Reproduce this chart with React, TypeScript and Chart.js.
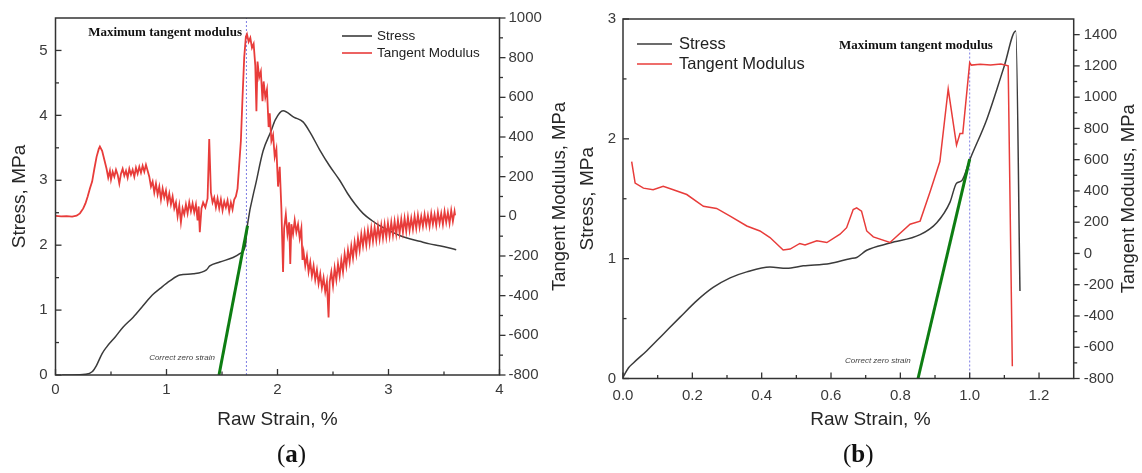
import React, { useEffect, useRef } from "react";
import { Chart, registerables } from "chart.js";

Chart.register(...registerables);

const SANS = "'Liberation Sans', Arial, Helvetica, sans-serif";
const SERIF = "'Liberation Serif', 'Times New Roman', serif";
const AXIS = "#333333";
const TICK_COLOR = "#3a3a3a";
const TITLE_COLOR = "#262626";
const RED = "#e83c3a";
const BLACK = "#3b3b3b";
const GREEN = "#0d7d12";
const BLUE = "#7d7de3";

// ---------------- Panel (a) ----------------
const stressA: [number, number][] = [
  [0.06, 0], [0.15, 0], [0.27, 0.01], [0.33, 0.05], [0.37, 0.15], [0.42, 0.33], [0.46, 0.43],
  [0.54, 0.59], [0.61, 0.74], [0.7, 0.89], [0.79, 1.07], [0.87, 1.23], [0.94, 1.33], [1.03, 1.45],
  [1.12, 1.54], [1.24, 1.56], [1.36, 1.62], [1.39, 1.68], [1.48, 1.74], [1.6, 1.81], [1.66, 1.87],
  [1.71, 1.99], [1.73, 2.32], [1.81, 2.99], [1.87, 3.45], [1.94, 3.75], [1.98, 3.93], [2.05, 4.07],
  [2.15, 3.97], [2.23, 3.9], [2.3, 3.72], [2.38, 3.47], [2.47, 3.22], [2.56, 3.0], [2.63, 2.8],
  [2.7, 2.63], [2.77, 2.49], [2.85, 2.38], [2.92, 2.3], [3.01, 2.22], [3.1, 2.15], [3.19, 2.1],
  [3.28, 2.06], [3.37, 2.02], [3.46, 1.99], [3.54, 1.96], [3.61, 1.93],
];

const tangentA: [number, number][] = [
  [0.0, 2], [0.05, 0], [0.1, 1], [0.15, -1], [0.19, 3], [0.22, 15], [0.25, 40], [0.27, 65],
  [0.29, 100], [0.31, 140], [0.33, 175], [0.35, 240], [0.37, 300], [0.39, 340], [0.4, 352],
  [0.42, 330], [0.44, 285], [0.46, 240], [0.475, 195], [0.49, 230], [0.5, 185], [0.515, 225],
  [0.53, 200], [0.545, 235], [0.56, 210], [0.575, 165], [0.59, 215], [0.605, 240], [0.62, 205],
  [0.635, 230], [0.65, 195], [0.665, 240], [0.68, 210], [0.695, 235], [0.71, 200], [0.725, 245],
  [0.74, 215], [0.755, 250], [0.77, 220], [0.785, 255], [0.8, 225], [0.815, 260], [0.83, 230],
  [0.845, 200], [0.86, 150], [0.875, 175], [0.89, 120], [0.905, 165], [0.92, 110], [0.935, 150],
  [0.95, 85], [0.965, 140], [0.98, 95], [0.995, 130], [1.01, 70], [1.025, 115], [1.04, 60],
  [1.055, 100], [1.07, 40], [1.085, 70], [1.1, 0], [1.115, 55], [1.13, -30], [1.145, 40],
  [1.16, 10], [1.175, 60], [1.19, 15], [1.205, 70], [1.22, 25], [1.235, 65], [1.25, 20],
  [1.265, 60], [1.28, -20], [1.29, 50], [1.3, -80], [1.315, 40], [1.33, 70], [1.35, 45],
  [1.37, 90], [1.385, 390], [1.4, 120], [1.415, 70], [1.43, 95], [1.445, 45], [1.46, 90],
  [1.475, 40], [1.49, 85], [1.505, 30], [1.52, 75], [1.535, 45], [1.55, 80], [1.565, 25],
  [1.58, 70], [1.595, 35], [1.61, 85], [1.625, 100], [1.64, 140], [1.655, 260], [1.67, 380],
  [1.685, 600], [1.7, 800], [1.715, 905], [1.725, 918], [1.74, 880], [1.755, 900], [1.77, 850],
  [1.785, 870], [1.8, 760], [1.81, 530], [1.82, 780], [1.835, 700], [1.85, 730], [1.865, 580],
  [1.875, 680], [1.89, 600], [1.905, 640], [1.92, 450], [1.93, 520], [1.945, 380], [1.96, 410],
  [1.975, 300], [1.99, 340], [2.005, 150], [2.02, 250], [2.035, 40], [2.05, -280], [2.06, -60],
  [2.075, 10], [2.09, -90], [2.105, -30], [2.115, -240], [2.125, -40], [2.14, -90], [2.155, -20],
  [2.17, -80], [2.185, -40], [2.2, -110], [2.215, -60], [2.225, -220], [2.235, -180], [2.25, -250],
  [2.265, -200], [2.28, -280], [2.295, -230], [2.31, -300], [2.325, -250], [2.34, -320],
  [2.355, -270], [2.37, -340], [2.385, -290], [2.4, -360], [2.415, -310], [2.43, -380],
  [2.445, -330], [2.46, -510], [2.47, -330], [2.485, -280], [2.5, -350], [2.515, -260],
  [2.53, -320], [2.545, -240], [2.56, -300], [2.575, -220], [2.59, -280], [2.605, -190],
  [2.62, -250], [2.635, -170], [2.65, -230], [2.665, -150], [2.68, -210], [2.695, -130],
  [2.71, -190], [2.725, -110], [2.74, -170], [2.755, -90], [2.77, -150], [2.785, -80],
  [2.8, -145], [2.815, -70], [2.83, -135], [2.845, -60], [2.86, -125], [2.875, -55], [2.89, -120],
  [2.905, -50], [2.92, -115], [2.935, -45], [2.95, -110], [2.965, -40], [2.98, -105], [2.995, -35],
  [3.01, -100], [3.025, -30], [3.04, -95], [3.055, -25], [3.07, -90], [3.085, -20], [3.1, -85],
  [3.115, -15], [3.13, -80], [3.145, -10], [3.16, -75], [3.175, -5], [3.19, -70], [3.205, -10],
  [3.22, -65], [3.235, 0], [3.25, -60], [3.265, 5], [3.28, -55], [3.295, 0], [3.31, -50],
  [3.325, 10], [3.34, -45], [3.355, 5], [3.37, -50], [3.385, 15], [3.4, -40], [3.415, 10],
  [3.43, -45], [3.445, 20], [3.46, -35], [3.475, 15], [3.49, -40], [3.505, 25], [3.52, -30],
  [3.535, 20], [3.55, -35], [3.565, 30], [3.58, -25], [3.595, 25], [3.6, 5],
];

const zeroLineA: [number, number][] = [[1.473, 0], [1.73, 2.3]];
const maxLineA: [number, number][] = [[1.72, 0], [1.72, 5.5]];

const xMajorA = [0, 1, 2, 3, 4];
const xMinorA = [0.5, 1.5, 2.5, 3.5];
const yMajorA = [0, 1, 2, 3, 4, 5];
const yMinorA = [0.5, 1.5, 2.5, 3.5, 4.5];
const y1MajorA = [-800, -600, -400, -200, 0, 200, 400, 600, 800, 1000];
const y1MinorA = [-700, -500, -300, -100, 100, 300, 500, 700, 900];

// ---------------- Panel (b) ----------------
const stressB: [number, number][] = [
  [0.0, 0.01], [0.016, 0.09], [0.03, 0.13], [0.068, 0.23], [0.116, 0.37], [0.164, 0.51],
  [0.213, 0.65], [0.26, 0.76], [0.309, 0.84], [0.357, 0.89], [0.424, 0.93], [0.472, 0.92],
  [0.52, 0.94], [0.597, 0.96], [0.655, 1.0], [0.674, 1.01], [0.703, 1.07], [0.77, 1.13],
  [0.857, 1.2], [0.905, 1.3], [0.943, 1.47], [0.962, 1.63], [0.977, 1.65], [1.001, 1.83],
  [1.049, 2.16], [1.078, 2.41], [1.1, 2.61], [1.133, 2.9], [1.145, 0.73],
];

const tangentB: [number, number][] = [
  [0.025, 588], [0.035, 450], [0.059, 418], [0.087, 408], [0.116, 429], [0.145, 408],
  [0.184, 377], [0.232, 302], [0.27, 288], [0.309, 239], [0.357, 176], [0.395, 144],
  [0.424, 102], [0.462, 22], [0.482, 28], [0.51, 64], [0.525, 55], [0.559, 81], [0.588, 70],
  [0.626, 123], [0.645, 165], [0.664, 281], [0.674, 292], [0.688, 271], [0.703, 144],
  [0.722, 106], [0.77, 70], [0.828, 187], [0.857, 207], [0.886, 397], [0.914, 588],
  [0.938, 1052], [0.962, 693], [0.972, 767], [0.98, 767], [1.0, 1221], [1.005, 1205],
  [1.03, 1210], [1.06, 1205], [1.09, 1212], [1.111, 1200], [1.123, -722],
];

const zeroLineB: [number, number][] = [[0.851, 0], [1.0, 1.83]];
const maxLineB: [number, number][] = [[1.0, 0], [1.0, 2.75]];

const xMajorB = [0, 0.2, 0.4, 0.6, 0.8, 1.0, 1.2];
const xMinorB = [0.1, 0.3, 0.5, 0.7, 0.9, 1.1];
const yMajorB = [0, 1, 2, 3];
const yMinorB = [0.5, 1.5, 2.5];
const y1MajorB = [-800, -600, -400, -200, 0, 200, 400, 600, 800, 1000, 1200, 1400];
const y1MinorB = [-700, -500, -300, -100, 100, 300, 500, 700, 900, 1100, 1300];

// ---------------- drawing helpers ----------------
const decorPlugin = {
  id: "decor",
  afterDatasetsDraw(chart: any, _args: any, o: any) {
    const { ctx, chartArea: a, scales } = chart;
    ctx.save();
    ctx.strokeStyle = AXIS;
    ctx.lineWidth = 1.5;
    ctx.strokeRect(a.left, a.top, a.right - a.left, a.bottom - a.top);

    ctx.lineWidth = 1.3;
    for (const m of o.marks) {
      const s = scales[m.id];
      const draw = (v: number, len: number) => {
        const p = s.getPixelForValue(v);
        ctx.beginPath();
        if (m.side === "bottom") {
          ctx.moveTo(p, a.bottom);
          ctx.lineTo(p, a.bottom - len);
        } else if (m.side === "left") {
          ctx.moveTo(a.left, p);
          ctx.lineTo(a.left + len, p);
        } else {
          ctx.moveTo(a.right, p);
          ctx.lineTo(a.right + len, p);
        }
        ctx.stroke();
      };
      m.major.forEach((v: number) => draw(v, 6));
      m.minor.forEach((v: number) => draw(v, 3.5));
    }

    for (const n of o.notes) {
      ctx.font = n.font;
      ctx.fillStyle = n.color;
      ctx.textAlign = n.align;
      ctx.textBaseline = "middle";
      ctx.fillText(n.text, scales.x.getPixelForValue(n.x), scales.y.getPixelForValue(n.y));
    }

    const lg = o.legend;
    const items = [chart.data.datasets[1], chart.data.datasets[0]];
    items.forEach((ds: any, i: number) => {
      const y = a.top + lg.top + i * lg.gap;
      ctx.strokeStyle = ds.borderColor;
      ctx.lineWidth = 1.6;
      ctx.beginPath();
      ctx.moveTo(a.left + lg.left, y);
      ctx.lineTo(a.left + lg.left + lg.len, y);
      ctx.stroke();
      ctx.font = lg.font;
      ctx.fillStyle = "#222";
      ctx.textAlign = "left";
      ctx.textBaseline = "middle";
      ctx.fillText(ds.label, a.left + lg.left + lg.len + lg.pad, y);
    });

    for (const t of o.titles) {
      ctx.save();
      const cx = t.anchor === "right" ? a.right + t.dx : (a.left + a.right) / 2 + t.dx;
      const cy = t.anchor === "right" ? (a.top + a.bottom) / 2 + t.dy : a.bottom + t.dy;
      ctx.translate(cx, cy);
      ctx.rotate(t.rot);
      ctx.font = t.font;
      ctx.fillStyle = TITLE_COLOR;
      ctx.textAlign = "center";
      ctx.textBaseline = "middle";
      ctx.fillText(t.text, 0, 0);
      ctx.restore();
    }
    ctx.restore();
  },
};

const xy = (pts: [number, number][]) => pts.map(([x, y]) => ({ x, y }));
const setTicks = (vals: number[]) => (s: any) => {
  s.ticks = vals.map((v) => ({ value: v }));
};
const plain = (v: any) => String(v);

function build(canvas: HTMLCanvasElement, p: any) {
  return new Chart(canvas, {
    type: "line",
    data: {
      datasets: [
        { label: "Tangent Modulus", data: xy(p.tangent), yAxisID: "y1", borderColor: RED, borderWidth: p.redW, pointRadius: 0, tension: 0, order: 1 },
        { label: "Stress", data: xy(p.stress), yAxisID: "y", borderColor: BLACK, borderWidth: 1.5, pointRadius: 0, cubicInterpolationMode: "monotone", order: 2 },
        { label: "Correct zero strain", data: xy(p.zero), yAxisID: "y", borderColor: GREEN, borderWidth: 3, pointRadius: 0, order: 0 },
        { label: "Maximum tangent modulus", data: xy(p.maxLine), yAxisID: "y", borderColor: BLUE, borderWidth: 1, borderDash: [2, 2], pointRadius: 0, order: 3 },
      ],
    } as any,
    options: {
      animation: false,
      responsive: false,
      events: [],
      layout: { padding: { top: p.top, left: 0, right: 0, bottom: 0 } },
      scales: {
        x: {
          type: "linear",
          min: p.xMin,
          max: p.xMax,
          afterFit: (s: any) => { s.height = p.xAxisH; },
          afterBuildTicks: setTicks(p.xMajor),
          grid: { display: false, drawTicks: false },
          border: { display: false },
          ticks: { padding: p.xPad, color: TICK_COLOR, font: { family: SANS, size: 15 }, callback: p.xFmt },
          title: p.xTitle
            ? { display: true, text: "Raw Strain, %", color: TITLE_COLOR, font: { family: SANS, size: 19 }, padding: { top: 0, bottom: 41.6 } }
            : { display: false },
        },
        y: {
          type: "linear",
          position: "left",
          min: p.yMin,
          max: p.yMax,
          afterFit: (s: any) => { s.width = p.yW; },
          afterBuildTicks: setTicks(p.yMajor),
          grid: { display: false, drawTicks: false },
          border: { display: false },
          ticks: { padding: p.yPad, color: TICK_COLOR, font: { family: SANS, size: 15 }, callback: plain },
          title: { display: true, text: "Stress, MPa", color: TITLE_COLOR, font: { family: SANS, size: 19 }, padding: { top: p.yTitlePad, bottom: 0 } },
        },
        y1: {
          type: "linear",
          position: "right",
          min: p.y1Min,
          max: p.y1Max,
          afterFit: (s: any) => { s.width = p.y1W; },
          afterBuildTicks: setTicks(p.y1Major),
          grid: { display: false, drawTicks: false },
          border: { display: false },
          ticks: { padding: p.y1Pad, color: TICK_COLOR, font: { family: SANS, size: 15 }, callback: plain },
        },
      },
      plugins: {
        legend: { display: false },
        tooltip: { enabled: false },
        decor: {
          marks: [
            { id: "x", side: "bottom", major: p.xMajor, minor: p.xMinor },
            { id: "y", side: "left", major: p.yMajor, minor: p.yMinor },
            { id: "y1", side: "right", major: p.y1Major, minor: p.y1Minor },
          ],
          notes: p.notes,
          legend: p.legend,
          titles: p.titles,
        },
      } as any,
    },
    plugins: [decorPlugin],
  });
}

export default function App() {
  const refA = useRef<HTMLCanvasElement>(null);
  const refB = useRef<HTMLCanvasElement>(null);

  useEffect(() => {
    const a = build(refA.current!, {
      tangent: tangentA, stress: stressA, zero: zeroLineA, maxLine: maxLineA, redW: 1.8,
      top: 15, xMin: 0, xMax: 4, xAxisH: 98, xPad: 6, xMajor: xMajorA, xMinor: xMinorA,
      xFmt: plain, xTitle: true,
      yMin: 0, yMax: 5.5, yW: 55.5, yPad: 8, yMajor: yMajorA, yMinor: yMinorA, yTitlePad: 8.6,
      y1Min: -800, y1Max: 1000, y1W: 75.5, y1Pad: 9, y1Major: y1MajorA, y1Minor: y1MinorA,
      notes: [
        { text: "Maximum tangent modulus", x: 1.68, y: 5.28, align: "right", font: `bold 13px ${SERIF}`, color: "#111" },
        { text: "Correct zero strain", x: 1.14, y: 0.26, align: "center", font: `italic 8px ${SANS}`, color: "#444" },
      ],
      legend: { left: 286.5, len: 30, pad: 5, top: 18, gap: 17, font: `13.5px ${SANS}` },
      titles: [
        { text: "Tangent Modulus, MPa", anchor: "right", dx: 60.5, dy: 0, rot: -Math.PI / 2, font: `18.5px ${SANS}` },
      ],
    });
    const b = build(refB.current!, {
      tangent: tangentB, stress: stressB, zero: zeroLineB, maxLine: maxLineB, redW: 1.5,
      top: 16, xMin: 0, xMax: 1.3, xAxisH: 94.5, xPad: 8, xMajor: xMajorB, xMinor: xMinorB,
      xFmt: (v: any) => Number(v).toFixed(1), xTitle: false,
      yMin: 0, yMax: 3, yW: 48, yPad: 7, yMajor: yMajorB, yMinor: yMinorB, yTitlePad: 1.6,
      y1Min: -800, y1Max: 1500, y1W: 68.3, y1Pad: 10, y1Major: y1MajorB, y1Minor: y1MinorB,
      notes: [
        { text: "Maximum tangent modulus", x: 1.067, y: 2.78, align: "right", font: `bold 13px ${SERIF}`, color: "#111" },
        { text: "Correct zero strain", x: 0.735, y: 0.145, align: "center", font: `italic 8px ${SANS}`, color: "#444" },
      ],
      legend: { left: 14, len: 35, pad: 7, top: 25, gap: 20, font: `16.5px ${SANS}` },
      titles: [
        { text: "Tangent Modulus, MPa", anchor: "right", dx: 55.3, dy: 0, rot: -Math.PI / 2, font: `18.5px ${SANS}` },
        { text: "Raw Strain, %", anchor: "bottom", dx: 22, dy: 41.5, rot: 0, font: `19px ${SANS}` },
      ],
    });
    return () => {
      a.destroy();
      b.destroy();
    };
  }, []);

  const lab: React.CSSProperties = {
    position: "absolute",
    top: 441,
    fontFamily: SERIF,
    fontSize: 25,
    lineHeight: "25px",
    color: "#111",
    whiteSpace: "nowrap",
  };

  return (
    <div style={{ position: "absolute", left: 0, top: 0, width: 1142, height: 473, background: "#fff", overflow: "hidden" }}>
      <canvas ref={refA} width={575} height={473} style={{ position: "absolute", left: 0, top: 0 }} />
      <canvas ref={refB} width={567} height={473} style={{ position: "absolute", left: 575, top: 0 }} />
      <div style={{ ...lab, left: 277 }}>(<b>a</b>)</div>
      <div style={{ ...lab, left: 843 }}>(<b>b</b>)</div>
    </div>
  );
}
